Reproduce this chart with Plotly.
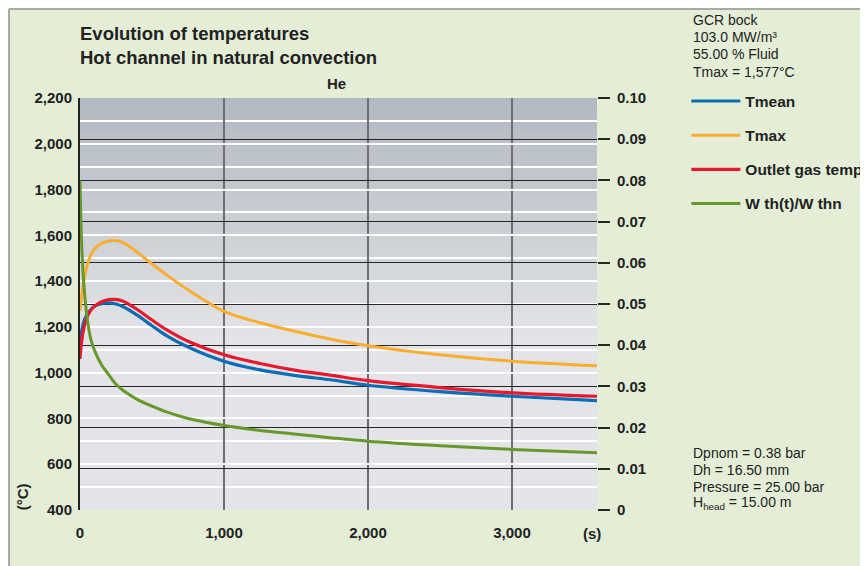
import plotly.graph_objects as go

# ---------------- data ----------------
time_s = [0, 10, 25, 50, 75, 100, 150, 200, 250, 300, 400, 500, 600, 750,
          1000, 1250, 1500, 1750, 2000, 2500, 3000, 3590]

t_mean = [1110, 1175, 1220, 1255, 1276, 1290, 1301, 1305, 1300, 1288, 1250, 1205,
          1162, 1112, 1050, 1012, 987, 968, 945, 917, 897, 878]

t_max = [1270, 1330, 1395, 1470, 1515, 1540, 1565, 1575, 1577, 1568, 1525, 1475,
         1428, 1362, 1268, 1218, 1180, 1145, 1118, 1078, 1050, 1030]

t_outlet = [1060, 1130, 1190, 1245, 1272, 1290, 1310, 1319, 1320, 1312, 1275, 1230,
            1188, 1137, 1078, 1040, 1010, 988, 965, 935, 912, 897]

w_ratio = [0.080, 0.066, 0.0555, 0.0465, 0.0415, 0.0388, 0.0352, 0.0328, 0.0305,
           0.0290, 0.0268, 0.0252, 0.0238, 0.0222, 0.0205, 0.0193, 0.0184, 0.0175,
           0.0167, 0.0156, 0.0147, 0.0139]

series_names = ["Tmean", "Tmax", "Outlet gas temp", "W th(t)/W thn"]
left_ticks = [400, 600, 800, 1000, 1200, 1400, 1600, 1800, 2000, 2200]
left_tick_text = ["400", "600", "800", "1,000", "1,200", "1,400", "1,600", "1,800", "2,000", "2,200"]
right_ticks = [0, 0.01, 0.02, 0.03, 0.04, 0.05, 0.06, 0.07, 0.08, 0.09, 0.10]
right_tick_text = ["0", "0.01", "0.02", "0.03", "0.04", "0.05", "0.06", "0.07",
                   "0.08", "0.09", "0.10"]
x_ticks = [0, 1000, 2000, 3000]
x_tick_text = ["0", "1,000", "2,000", "3,000"]

info_top = ["GCR bock", "103.0 MW/m³", "55.00 % Fluid", "Tmax = 1,577°C"]
info_bottom = ["Dpnom = 0.38 bar", "Dh = 16.50 mm", "Pressure = 25.00 bar",
               "H<sub>head</sub> = 15.00 m"]

# ---------------- styles ----------------
FONT = "Liberation Sans, Arial, Helvetica, sans-serif"
INK = "#222222"
BG = "#e4eed7"
colors = ["#0a6db5", "#fbad2f", "#e8192c", "#66982c"]
SPL = dict(shape="spline", smoothing=0.9)

fig = go.Figure()

fig.add_trace(go.Scatter(x=time_s, y=w_ratio, name=series_names[3], yaxis="y2",
                         mode="lines", line=dict(color=colors[3], width=3, **SPL),
                         legendgroup="g4", legendrank=4))
fig.add_trace(go.Scatter(x=time_s, y=t_max, name=series_names[1],
                         mode="lines", line=dict(color=colors[1], width=3, **SPL),
                         legendgroup="g2", legendrank=2))
fig.add_trace(go.Scatter(x=time_s, y=t_mean, name=series_names[0],
                         mode="lines", line=dict(color=colors[0], width=3.2, **SPL),
                         legendgroup="g1", legendrank=1))
fig.add_trace(go.Scatter(x=time_s, y=t_outlet, name=series_names[2],
                         mode="lines", line=dict(color=colors[2], width=3.2, **SPL),
                         legendgroup="g3", legendrank=3))

# plot-area background gradient (style only)
shapes = []
n = 30
top_c = (178, 185, 193)
bot_c = (227, 228, 231)
g_start = 0.40
shapes.append(dict(type="rect", xref="paper", yref="paper", x0=0, x1=1, y0=0, y1=g_start,
                   fillcolor="rgb(%d,%d,%d)" % bot_c, line=dict(width=0), layer="below"))
for i in range(n):
    f = i / (n - 1)
    c = tuple(int(round(top_c[k] + (bot_c[k] - top_c[k]) * f)) for k in range(3))
    y1 = 1 - (1 - g_start) * i / n
    y0 = 1 - (1 - g_start) * (i + 1) / n
    shapes.append(dict(type="rect", xref="paper", yref="paper", x0=0, x1=1, y0=y0 - 0.001, y1=y1,
                       fillcolor="rgb(%d,%d,%d)" % c, line=dict(width=0), layer="below"))

# frame of the figure (top and left)
shapes.append(dict(type="line", xref="paper", yref="paper", x0=-0.1373, x1=1.6, y0=1.216, y1=1.216,
                   line=dict(color="#a7aaa6", width=2)))
shapes.append(dict(type="line", xref="paper", yref="paper", x0=-0.1373, x1=-0.1373, y0=1.216, y1=-0.2,
                   line=dict(color="#a7aaa6", width=2)))

annotations = [
    dict(text="Evolution of temperatures<br>Hot channel in natural convection",
         xref="paper", yref="paper", x=-0.004, y=1.187, xanchor="left", yanchor="top",
         align="left", showarrow=False, font=dict(family=FONT, size=18.5, color=INK, weight="bold")),
    dict(text="He", xref="paper", yref="paper", x=0.497, y=1.034, xanchor="center", yanchor="middle",
         showarrow=False, font=dict(family=FONT, size=15, color=INK, weight="bold")),
    dict(text="(°C)", xref="paper", yref="paper", x=-0.112, y=0.031, xanchor="center", yanchor="middle",
         textangle=-90, showarrow=False, font=dict(family=FONT, size=15, color=INK, weight="bold")),
    dict(text="(s)", xref="paper", yref="paper", x=0.990, y=-0.056, xanchor="center", yanchor="middle",
         showarrow=False, font=dict(family=FONT, size=15, color=INK, weight="bold")),
]
top_y = [1.1893, 1.1481, 1.1068, 1.0631]
for txt, yy in zip(info_top, top_y):
    annotations.append(dict(text=txt, xref="paper", yref="paper", x=1.182, y=yy,
                            xanchor="left", yanchor="middle", align="left", showarrow=False,
                            font=dict(family=FONT, size=14, color=INK)))
bot_y = [0.1383, 0.0971, 0.0558, 0.0160]
for txt, yy in zip(info_bottom, bot_y):
    annotations.append(dict(text=txt, xref="paper", yref="paper", x=1.182, y=yy,
                            xanchor="left", yanchor="middle", align="left", showarrow=False,
                            font=dict(family=FONT, size=14, color=INK)))

fig.update_layout(
    width=868, height=566,
    # the page adds an 8px body margin, so the plot area lands at x 80..597, y 98..510
    margin=dict(l=72, r=279, t=90, b=64, autoexpand=False),
    paper_bgcolor=BG,
    plot_bgcolor="rgba(0,0,0,0)",
    font=dict(family=FONT, color=INK),
    showlegend=True,
    legend=dict(xref="container", yref="container", x=0.7815, y=0.865,
                xanchor="left", yanchor="top",
                bgcolor="rgba(0,0,0,0)", borderwidth=0,
                font=dict(family=FONT, size=15.5, color=INK, weight="bold"),
                tracegroupgap=11, itemwidth=49, traceorder="grouped"),
    xaxis=dict(range=[0, 3590], tickvals=x_ticks, ticktext=x_tick_text,
               showgrid=True, gridcolor="#6e6e6e", gridwidth=1.6, zeroline=False,
               showline=False, ticks="", ticklabelstandoff=12,
               tickfont=dict(family=FONT, size=15, color=INK, weight="bold")),
    yaxis=dict(range=[400, 2200], tickvals=left_ticks, ticktext=left_tick_text,
               showgrid=True, gridcolor="#ffffff", gridwidth=1.5, zeroline=False,
               showline=True, linecolor=INK, linewidth=2, ticks="", ticklabelstandoff=3,
               tickfont=dict(family=FONT, size=15, color=INK, weight="bold"),
               minor=dict(dtick=100, showgrid=True, gridcolor="#ffffff", gridwidth=1.5)),
    yaxis2=dict(range=[0, 0.10], overlaying="y", side="right", tickvals=right_ticks, ticktext=right_tick_text,
                showgrid=True, gridcolor="#262626", gridwidth=1.2, zeroline=False,
                showline=False, ticks="outside", ticklen=12, tickcolor="#262626", tickwidth=1.5,
                ticklabelstandoff=4,
                tickfont=dict(family=FONT, size=15, color=INK, weight="bold")),
    shapes=shapes,
    annotations=annotations,
)

fig.write_html("out.html")
